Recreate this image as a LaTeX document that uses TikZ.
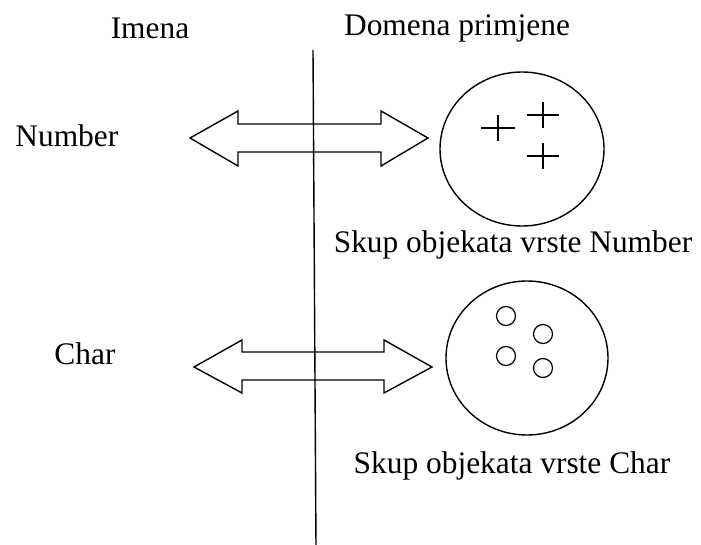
\documentclass[tikz,border=0pt]{standalone}
\usepackage{fontspec}
\setmainfont{Liberation Serif}
\begin{document}
\begin{tikzpicture}[x=0.5pt,y=-0.5pt,
  lbl/.style={inner sep=0pt,font=\fontsize{15.7}{18}\selectfont},
  ln/.style={line width=0.7pt,line join=miter},
  dot/.style={ln,line width=0.6pt}]
\useasboundingbox (0,0) rectangle (701,545);
% titles
\node[lbl] (imena) at (150,28) {Imena};
\node[lbl] (domena) at (457,28) {Domena primjene};
% vertical divider
\coordinate (vtop) at (313,50);
\coordinate (vbot) at (316,547);
\draw[ln] (vtop) -- (vbot);
% left labels
\node[lbl,anchor=west] (number) at (15,136) {Number};
\node[lbl] (char) at (85,354) {Char};
% double arrow 1
\draw[ln] (190,138) -- (238,111) -- (238,124) -- (381,124) -- (381,111) -- (428,138)
  -- (381,166) -- (381,152) -- (238,152) -- (238,166) -- cycle;
% double arrow 2
\draw[ln] (194,367) -- (242,340) -- (242,352) -- (384,352) -- (384,340) -- (432,367)
  -- (384,393) -- (384,380) -- (242,380) -- (242,393) -- cycle;
% set 1
\draw[ln] (522,149) ellipse [x radius=82,y radius=77];
\draw[dot] (481,128) -- (515,128) (498,115) -- (498,141);
\draw[dot] (527,115) -- (559,115) (543,102) -- (543,128);
\draw[dot] (527,156) -- (559,156) (543,143) -- (543,169);
\node[lbl] (set1) at (513,245) {Skup objekata vrste Number};
% set 2
\draw[ln] (527,358) ellipse [x radius=81,y radius=77];
\draw[dot] (506,316) circle [radius=9.5];
\draw[dot] (543,334) circle [radius=9.5];
\draw[dot] (506,356) circle [radius=9.5];
\draw[dot] (543,368) circle [radius=9.5];
\node[lbl] (set2) at (512,466) {Skup objekata vrste Char};
\end{tikzpicture}
\end{document}
